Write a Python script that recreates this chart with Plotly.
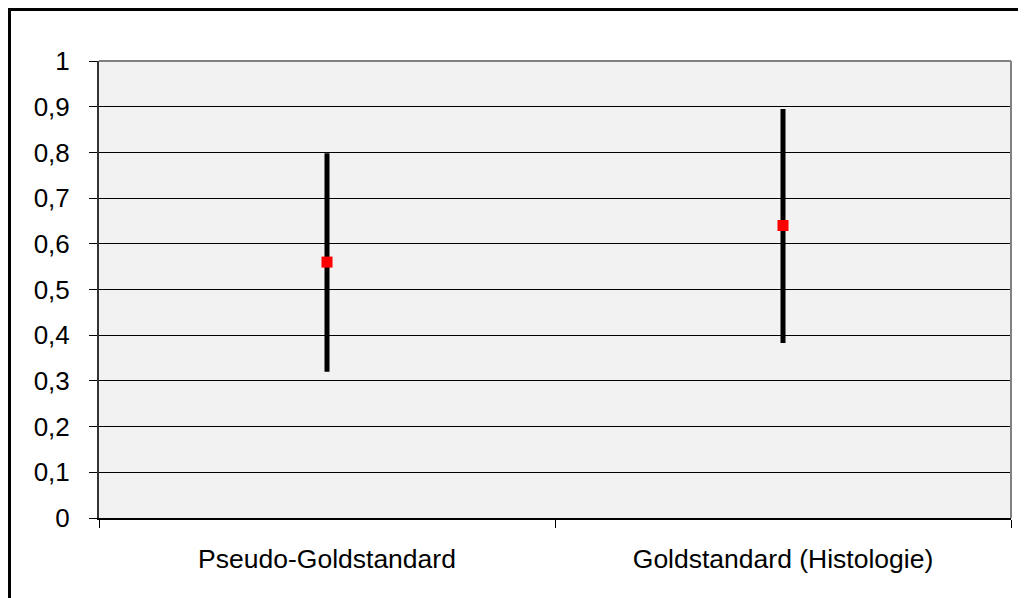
import plotly.graph_objects as go

categories = ["Pseudo-Goldstandard", "Goldstandard (Histologie)"]
low_values = [0.32, 0.383]
high_values = [0.798, 0.895]
mid_values = [0.56, 0.64]
y_tick_vals = [0, 0.1, 0.2, 0.3, 0.4, 0.5, 0.6, 0.7, 0.8, 0.9, 1]
y_tick_text = ["0", "0,1", "0,2", "0,3", "0,4", "0,5", "0,6", "0,7", "0,8", "0,9", "1"]

FONT = "Liberation Sans, Arial, sans-serif"

fig = go.Figure()

for cat, lo, hi in zip(categories, low_values, high_values):
    fig.add_trace(go.Scatter(
        x=[cat, cat], y=[lo, hi], mode="lines",
        line=dict(color="black", width=5), showlegend=False, hoverinfo="skip"))

fig.add_trace(go.Scatter(
    x=categories, y=mid_values, mode="markers",
    marker=dict(symbol="square", color="#FF0000", size=11, line=dict(width=0)),
    showlegend=False))

fig.update_layout(
    width=1010, height=590,
    margin=dict(l=91, r=7, t=53, b=80),
    paper_bgcolor="white",
    plot_bgcolor="#F2F2F2",
    font=dict(family=FONT, size=26, color="black"),
    xaxis=dict(
        type="category", range=[-0.5, 1.5],
        showgrid=False, zeroline=False,
        showline=True, linecolor="black", linewidth=2,
        ticks="outside", tickson="boundaries", ticklen=8, tickcolor="black", tickwidth=1,
        ticklabelstandoff=16,
        tickfont=dict(family=FONT, size=26.5, color="black"),
    ),
    yaxis=dict(
        range=[0, 1], tickvals=y_tick_vals, ticktext=y_tick_text,
        showgrid=True, gridcolor="black", gridwidth=1,
        zeroline=False,
        showline=True, linecolor="#333333", linewidth=2,
        ticks="outside", ticklen=8, tickcolor="black", tickwidth=1,
        ticklabelstandoff=14,
        tickfont=dict(family=FONT, size=26, color="black"),
    ),
    shapes=[
        dict(type="line", xref="paper", yref="paper", x0=0, x1=1, y0=1, y1=1,
             line=dict(color="#808080", width=2)),
        dict(type="line", xref="paper", yref="paper", x0=1, x1=1, y0=0, y1=1,
             line=dict(color="#808080", width=2)),
        dict(type="rect", xref="paper", yref="paper",
             x0=(9.5 - 99) / 912, x1=1.1, y0=-0.3, y1=(518 - 9.5) / 457,
             line=dict(color="black", width=3), fillcolor="rgba(0,0,0,0)"),
    ],
)

fig.write_html("out.html")
